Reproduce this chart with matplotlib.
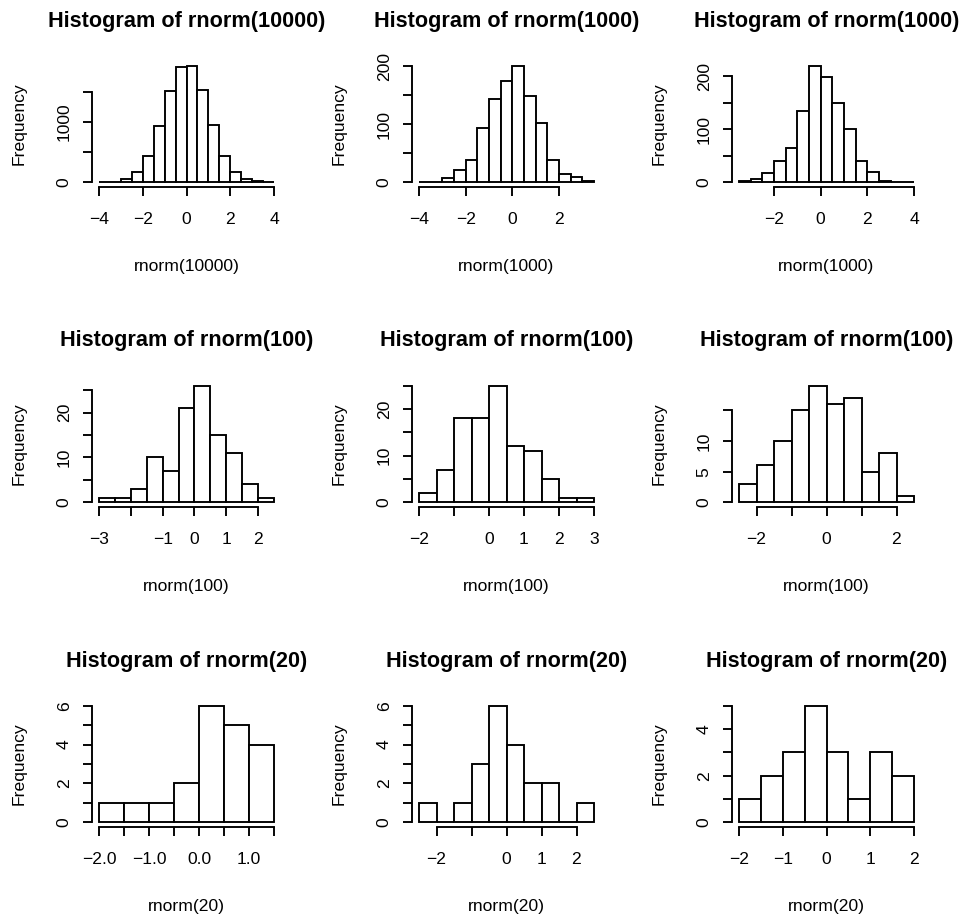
import numpy as np
import matplotlib
matplotlib.use("Agg")
import matplotlib.pyplot as plt

plt.rcParams["font.family"] = ["Liberation Sans", "DejaVu Sans"]

MINUS = "\u2212"

# one entry per panel, row by row
TITLES = ["rnorm(10000)", "rnorm(1000)", "rnorm(1000)",
          "rnorm(100)", "rnorm(100)", "rnorm(100)",
          "rnorm(20)", "rnorm(20)", "rnorm(20)"]

BIN_START = [-4.0, -4.0, -3.5,
             -3.0, -2.0, -2.5,
             -2.0, -2.5, -2.0]
BIN_WIDTH = 0.5

COUNTS = [
    [2, 10, 50, 170, 440, 925, 1505, 1910, 1930, 1530, 945, 440, 176, 50, 15, 5],
    [1, 1, 7, 21, 39, 94, 143, 175, 201, 148, 103, 38, 15, 9, 2],
    [2, 7, 18, 40, 65, 135, 220, 198, 149, 101, 40, 20, 3, 0, 1],
    [1, 1, 3, 10, 7, 21, 26, 15, 11, 4, 1],
    [2, 7, 18, 18, 25, 12, 11, 5, 1, 1],
    [3, 6, 10, 15, 19, 16, 17, 5, 8, 1],
    [1, 1, 1, 2, 6, 5, 4],
    [1, 0, 1, 3, 6, 4, 2, 2, 0, 1],
    [1, 2, 3, 5, 3, 1, 3, 2],
]

X_TICKS = [
    [-4, -2, 0, 2, 4],
    [-4, -2, 0, 2],
    [-2, 0, 2, 4],
    [-3, -2, -1, 0, 1, 2],
    [-2, -1, 0, 1, 2, 3],
    [-2, -1, 0, 1, 2],
    [-2.0, -1.5, -1.0, -0.5, 0.0, 0.5, 1.0, 1.5],
    [-2, -1, 0, 1, 2],
    [-2, -1, 0, 1, 2],
]
X_LABELS = [
    ["-4", "-2", "0", "2", "4"],
    ["-4", "-2", "0", "2"],
    ["-2", "0", "2", "4"],
    ["-3", "", "-1", "0", "1", "2"],
    ["-2", "", "0", "1", "2", "3"],
    ["-2", "", "0", "", "2"],
    ["-2.0", "", "-1.0", "", "0.0", "", "1.0", ""],
    ["-2", "", "0", "1", "2"],
    ["-2", "-1", "0", "1", "2"],
]

Y_TICKS = [
    [0, 500, 1000, 1500],
    [0, 50, 100, 150, 200],
    [0, 50, 100, 150, 200],
    [0, 5, 10, 15, 20, 25],
    [0, 5, 10, 15, 20, 25],
    [0, 5, 10, 15],
    [0, 1, 2, 3, 4, 5, 6],
    [0, 1, 2, 3, 4, 5, 6],
    [0, 1, 2, 3, 4, 5],
]
Y_LABELS = [
    ["0", "", "1000", ""],
    ["0", "", "100", "", "200"],
    ["0", "", "100", "", "200"],
    ["0", "", "10", "", "20", ""],
    ["0", "", "10", "", "20", ""],
    ["0", "5", "10", ""],
    ["0", "", "2", "", "4", "", "6"],
    ["0", "", "2", "", "4", "", "6"],
    ["0", "", "2", "", "4", ""],
]

W, H = 965, 915
PX = 72 / 100  # points per pixel at dpi 100
LW = 1.9 * PX
FS = 12.6
FS_TITLE = 15.6

fig = plt.figure(figsize=(W / 100, H / 100), dpi=100)

for k in range(9):
    row, col = divmod(k, 3)
    left, top, pw, ph = 92 + 320 * col, 61 + 320 * row, 189, 126
    ax = fig.add_axes([left / W, 1 - (top + ph) / H, pw / W, ph / H])

    counts = np.array(COUNTS[k])
    edges = BIN_START[k] + BIN_WIDTH * np.arange(len(counts) + 1)
    ax.bar(edges[:-1], counts, width=BIN_WIDTH, align="edge",
           facecolor="white", edgecolor="black", linewidth=LW)

    # R style 4% padding
    xr = edges[-1] - edges[0]
    ax.set_xlim(edges[0] - 0.04 * xr, edges[-1] + 0.04 * xr)
    ym = counts.max()
    ax.set_ylim(-0.04 * ym, 1.04 * ym)

    for s in ("top", "right"):
        ax.spines[s].set_visible(False)
    ax.spines["bottom"].set_bounds(X_TICKS[k][0], X_TICKS[k][-1])
    ax.spines["left"].set_bounds(Y_TICKS[k][0], Y_TICKS[k][-1])
    for s in ("bottom", "left"):
        ax.spines[s].set_linewidth(LW)

    ax.set_xticks(X_TICKS[k])
    ax.set_xticklabels([t.replace("-", MINUS) for t in X_LABELS[k]], fontsize=FS)
    ax.set_yticks(Y_TICKS[k])
    ax.set_yticklabels(Y_LABELS[k], fontsize=FS, rotation=90, va="center")
    ax.tick_params(axis="both", direction="out", length=9.3 * PX, width=LW)
    ax.tick_params(axis="x", pad=15.5 * PX)
    ax.tick_params(axis="y", pad=11 * PX)

    ax.annotate("Histogram of " + TITLES[k], xy=(0.5, 1), xycoords="axes fraction",
                xytext=(0, 40 * PX), textcoords="offset points",
                ha="center", va="center", fontsize=FS_TITLE, fontweight="bold")
    ax.annotate(TITLES[k], xy=(0.5, 0), xycoords="axes fraction",
                xytext=(0, -79 * PX), textcoords="offset points",
                ha="center", va="center", fontsize=FS)
    ax.annotate("Frequency", xy=(0, 0.5), xycoords="axes fraction",
                xytext=(-72.5 * PX, 0), textcoords="offset points",
                ha="center", va="center", rotation=90, fontsize=FS)

fig.savefig("out.png", dpi=100)
